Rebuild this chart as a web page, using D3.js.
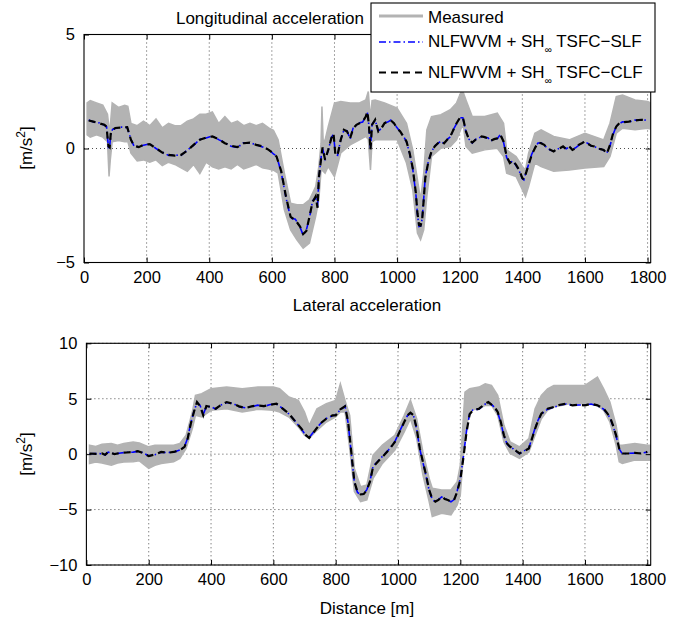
<!DOCTYPE html>
<html>
<head>
<meta charset="utf-8">
<script src="https://cdn.jsdelivr.net/npm/d3@7"></script>
<style>
  body { margin: 0; background: #fff; }
  svg { display: block; font-family: "Liberation Sans", Arial, Helvetica, sans-serif; }
</style>
</head>
<body>
<svg id="chart" width="686" height="622"></svg>
<script>
// ---- data ----
const xTicks = [0, 200, 400, 600, 800, 1000, 1200, 1400, 1600, 1800];
const lonTicks = [-5, 0, 5];
const latTicks = [-10, -5, 0, 5, 10];
const legendLabels = ["Measured", "NLFWVM + SH", "NLFWVM + SH"];
const legendSuffix = ["", " TSFC\u2212SLF", " TSFC\u2212CLF"];

// longitudinal acceleration, model outputs
const lonDist = [15,30,50,65,72,78,82,86,92,100,120,138,150,160,175,190,210,230,250,270,290,310,330,350,370,390,410,430,450,470,490,510,530,550,570,590,605,615,630,645,660,675,690,700,710,720,730,740,746,750,758,762,770,780,790,797,803,810,820,830,840,850,860,870,880,890,900,905,910,915,920,930,940,950,960,970,980,990,1000,1010,1020,1030,1040,1050,1060,1065,1070,1075,1080,1085,1090,1100,1110,1120,1130,1140,1150,1160,1170,1180,1190,1200,1210,1220,1230,1240,1250,1260,1270,1280,1290,1300,1310,1320,1330,1340,1350,1360,1370,1380,1390,1400,1405,1410,1420,1430,1440,1450,1460,1470,1480,1490,1500,1510,1520,1530,1540,1550,1560,1570,1580,1590,1600,1610,1620,1630,1640,1650,1660,1670,1680,1690,1700,1710,1720,1740,1760,1780,1800];
const lonCLF = [1.23,1.18,1.10,1.04,0.95,0.10,0.05,0.75,0.82,0.90,0.92,0.94,0.38,0.12,0.06,0.16,0.19,0.01,-0.18,-0.28,-0.31,-0.28,-0.09,0.16,0.38,0.48,0.53,0.41,0.23,0.12,0.06,0.23,0.26,0.16,0.09,-0.06,-0.22,-0.35,-1.0,-2.1,-3.0,-3.14,-3.42,-3.75,-3.62,-3.0,-2.35,-2.1,-2.6,-1.3,-0.35,0.05,-0.5,-0.06,0.45,0.66,-0.3,-0.28,0.38,0.82,0.75,0.45,0.89,1.04,1.11,1.18,1.40,1.62,1.04,-0.06,1.04,1.26,0.75,0.89,1.11,1.18,1.23,1.11,0.89,0.75,0.53,0.31,-0.20,-0.86,-1.96,-2.84,-3.35,-3.38,-3.13,-2.25,-1.30,-0.57,-0.13,0.09,0.23,0.31,0.23,0.38,0.53,0.82,1.11,1.33,1.37,0.75,0.38,0.26,0.38,0.45,0.53,0.50,0.45,0.35,0.41,0.45,0.60,0.31,-0.35,-0.64,-0.53,-0.72,-0.94,-1.30,-1.35,-1.15,-0.72,-0.28,0.01,0.26,0.23,0.16,0.01,-0.06,-0.13,-0.03,0.01,0.09,-0.03,0.09,-0.06,0.01,0.16,0.23,0.31,0.20,0.12,0.09,0.01,-0.03,-0.06,-0.23,0.16,0.67,0.96,1.11,1.15,1.18,1.23,1.26,1.23];
const lonSLF = [1.25,1.16,1.12,1.02,0.97,0.05,0.08,0.72,0.85,0.88,0.94,0.92,0.40,0.10,0.08,0.14,0.21,0.00,-0.16,-0.30,-0.29,-0.30,-0.07,0.14,0.40,0.46,0.55,0.39,0.25,0.10,0.04,0.25,0.24,0.18,0.07,-0.04,-0.24,-0.33,-1.05,-2.15,-3.05,-3.10,-3.45,-3.80,-3.58,-3.05,-2.30,-2.15,-2.55,-1.35,-0.30,0.00,-0.45,-0.10,0.48,0.62,-0.25,-0.30,0.40,0.80,0.78,0.42,0.92,1.02,1.13,1.16,1.42,1.58,1.00,0.00,1.06,1.24,0.78,0.87,1.13,1.16,1.25,1.09,0.91,0.73,0.55,0.29,-0.22,-0.90,-2.00,-2.90,-3.42,-3.40,-3.10,-2.20,-1.25,-0.55,-0.15,0.11,0.21,0.33,0.21,0.40,0.51,0.84,1.09,1.35,1.35,0.73,0.40,0.24,0.40,0.43,0.55,0.48,0.47,0.33,0.43,0.43,0.62,0.28,-0.40,-0.62,-0.55,-0.75,-0.98,-1.33,-1.38,-1.12,-0.70,-0.25,0.03,0.24,0.25,0.14,0.03,-0.08,-0.11,-0.05,0.03,0.07,-0.01,0.07,-0.04,0.03,0.14,0.25,0.29,0.22,0.10,0.11,-0.01,-0.01,-0.08,-0.20,0.12,0.62,0.98,1.09,1.17,1.16,1.25,1.24,1.25];
// longitudinal acceleration, measured signal (upper / lower extent of the noisy trace)
const lonMeasDist = [10,20,40,60,75,80,84,90,110,130,140,150,170,190,210,230,250,270,290,310,330,350,370,390,410,430,450,470,490,510,530,550,570,590,605,620,640,660,680,700,720,740,750,757,760,764,770,780,800,820,850,880,900,908,915,920,930,960,1000,1030,1050,1065,1075,1085,1095,1110,1140,1170,1190,1205,1212,1220,1240,1280,1320,1340,1350,1380,1400,1410,1420,1440,1460,1500,1550,1600,1660,1680,1700,1720,1760,1800,1810];
const lonMeasHi = [2.0,2.1,2.0,1.9,1.5,0.9,1.0,2.0,1.8,1.9,1.85,1.1,1.0,1.2,1.0,1.3,0.9,1.1,1.0,1.0,1.2,1.3,1.5,1.5,1.6,1.1,1.4,1.1,1.2,1.0,1.1,1.0,1.1,0.9,0.8,0.38,-1.08,-2.4,-2.47,-2.47,-2.25,-1.67,-0.79,0.2,1.84,0.3,0.38,0.96,1.99,2.06,2.0,2.0,2.13,2.5,1.3,2.1,2.13,2.0,1.77,1.11,-0.06,-1.37,-2.25,-1.08,0.82,1.4,1.48,1.7,2.0,2.5,2.43,2.13,1.4,1.4,1.55,1.11,-0.06,-0.35,-0.79,-0.94,-0.2,0.67,0.82,0.53,0.38,0.67,0.38,1.11,2.28,2.35,2.13,2.06,2.0];
const lonMeasLo = [0.6,0.5,0.6,0.5,0.3,-1.23,-0.5,0.3,0.35,0.3,0.3,-0.2,-0.55,-0.5,-0.6,-0.5,-0.75,-0.6,-0.7,-0.85,-1.0,-0.7,-1.1,-0.6,-0.8,-0.9,-0.8,-0.9,-0.7,-0.9,-0.8,-0.7,-0.85,-0.9,-0.95,-1.08,-2.69,-3.57,-4.0,-4.37,-4.15,-2.98,-2.25,-1.0,-0.94,-1.0,-1.08,-0.79,-1.23,-0.2,0.16,0.38,0.53,0.4,-0.94,0.3,0.38,0.38,0.38,-0.64,-1.81,-3.71,-4.0,-3.57,-2.1,-0.35,0.01,0.09,0.38,0.9,0.96,0.09,-0.2,-0.06,0.01,-0.35,-1.08,-1.23,-1.81,-2.1,-1.67,-0.64,-0.79,-1.0,-0.94,-0.86,-0.79,-0.35,0.67,0.89,0.82,0.89,0.85];

// lateral acceleration, model outputs
const latDist = [10,30,50,60,70,90,110,130,150,165,180,200,220,240,260,280,300,315,325,335,345,355,365,375,385,400,415,430,450,470,490,510,530,550,570,590,610,630,650,670,690,705,715,730,750,770,790,800,815,830,840,850,860,870,880,890,900,910,920,930,950,970,990,1010,1030,1040,1050,1060,1070,1080,1090,1100,1110,1120,1130,1140,1150,1160,1170,1180,1190,1200,1210,1220,1230,1240,1260,1280,1290,1300,1310,1320,1330,1340,1350,1360,1370,1380,1390,1400,1410,1420,1430,1440,1450,1460,1480,1500,1520,1540,1560,1580,1600,1620,1640,1660,1670,1680,1690,1700,1710,1720,1740,1760,1780,1800];
const latCLF = [0.06,0.03,0.06,-0.05,0.20,0.00,0.12,0.15,0.20,0.27,0.12,-0.18,-0.03,0.20,0.12,0.20,0.36,0.66,1.40,2.75,3.80,4.70,4.34,3.50,4.34,4.25,4.10,4.40,4.70,4.55,4.31,4.16,4.31,4.40,4.34,4.46,4.55,4.10,3.65,2.96,2.30,1.70,1.47,2.00,2.75,3.20,3.50,3.50,4.04,4.31,2.90,0.20,-2.49,-3.40,-3.62,-3.60,-3.23,-2.49,-1.14,-0.84,-0.24,0.36,1.10,2.30,3.50,3.74,3.50,2.30,0.51,-0.69,-1.89,-3.23,-4.04,-4.28,-4.13,-3.83,-4.04,-4.13,-4.28,-4.13,-3.38,-2.30,-0.30,2.00,3.60,3.95,4.10,4.55,4.70,4.46,4.25,3.80,2.90,1.70,0.96,0.66,0.51,0.27,0.06,0.20,0.36,0.51,1.40,2.30,3.05,3.65,4.10,4.25,4.46,4.55,4.40,4.46,4.40,4.55,4.40,4.10,3.74,3.35,2.60,1.70,0.51,0.06,0.06,0.12,0.06,0.20];
const latSLF = [0.04,0.05,0.04,-0.08,0.18,0.02,0.10,0.17,0.18,0.25,0.14,-0.15,-0.05,0.18,0.14,0.18,0.38,0.70,1.45,2.80,3.85,4.65,4.38,3.60,4.30,4.28,4.06,4.42,4.66,4.58,4.28,4.18,4.28,4.42,4.30,4.48,4.52,4.12,3.62,2.98,2.26,1.66,1.50,2.04,2.72,3.22,3.46,3.54,4.00,4.34,2.80,0.10,-2.55,-3.45,-3.66,-3.58,-3.20,-2.45,-1.10,-0.80,-0.20,0.40,1.14,2.34,3.46,3.70,3.46,2.26,0.45,-0.75,-1.95,-3.28,-4.08,-4.30,-4.10,-3.86,-4.00,-4.16,-4.30,-4.10,-3.30,-2.20,-0.20,2.10,3.64,3.98,4.06,4.52,4.66,4.48,4.22,3.76,2.84,1.64,0.92,0.62,0.48,0.24,0.04,0.22,0.38,0.55,1.46,2.36,3.10,3.62,4.06,4.22,4.44,4.52,4.42,4.44,4.42,4.52,4.36,4.06,3.70,3.30,2.54,1.64,0.46,0.02,0.08,0.10,0.08,0.18];
// lateral acceleration, measured signal
const latMeasDist = [10,30,50,80,100,120,150,170,200,220,240,280,300,320,340,350,370,400,450,500,550,600,620,650,680,700,715,740,770,800,815,830,845,860,880,900,920,950,990,1020,1040,1060,1080,1100,1110,1140,1170,1190,1200,1215,1230,1260,1280,1300,1320,1340,1360,1390,1420,1440,1460,1480,1500,1550,1600,1640,1660,1680,1700,1710,1720,1760,1800,1810];
const latMeasHi = [0.81,0.7,0.9,0.96,0.8,0.96,1.1,1.0,0.66,0.8,0.81,0.81,0.96,1.7,3.8,5.3,5.45,5.9,6.05,5.9,6.05,6.05,5.9,5.15,4.85,3.8,2.6,4.1,4.55,4.85,6.35,4.85,3.5,-1.29,-2.93,-2.78,-0.09,0.81,1.7,3.5,4.85,3.2,0.2,-2.19,-3.08,-3.23,-3.23,-2.49,-0.99,5.6,5.9,6.05,6.35,6.2,5.3,2.6,1.1,0.66,1.4,4.1,5.3,5.9,6.2,6.2,6.2,6.95,5.9,4.7,2.6,0.81,0.81,0.96,0.81,0.8];
const latMeasLo = [-0.84,-0.7,-0.8,-0.99,-0.8,-0.7,-0.69,-0.6,-1.29,-1.0,-0.84,-0.69,-0.39,0.51,2.3,3.5,3.35,3.95,4.1,3.8,4.04,3.95,3.8,3.35,2.46,1.7,1.4,2.15,2.9,3.35,3.8,3.8,0.51,-3.38,-4.28,-4.13,-2.19,-0.84,0.36,2.0,3.2,1.4,-1.89,-4.28,-5.63,-5.33,-5.48,-4.58,-3.68,1.7,3.95,4.1,4.4,4.4,3.5,1.1,0.06,-0.39,0.2,1.7,3.2,3.95,4.25,4.55,4.55,4.4,3.95,2.9,0.81,-0.69,-0.84,-0.54,-0.54,-0.55];

// ---- drawing ----
const svg = d3.select("#chart");
const gray = "#b3b3b3";

function panel(o) {
  const x = d3.scaleLinear().domain([0, o.xMax]).range([o.left, o.right]);
  const y = d3.scaleLinear().domain(o.yDomain).range([o.bottom, o.top]);
  const g = svg.append("g");

  // dotted grid
  g.append("g").selectAll("line").data(xTicks.filter(t => t > 0)).join("line")
    .attr("x1", d => x(d)).attr("x2", d => x(d))
    .attr("y1", o.top).attr("y2", o.bottom)
    .attr("stroke", "#000").attr("stroke-width", 0.7).attr("stroke-dasharray", "1,3");
  g.append("g").selectAll("line").data(o.yTicks).join("line")
    .attr("x1", o.left).attr("x2", o.right)
    .attr("y1", d => y(d)).attr("y2", d => y(d))
    .attr("stroke", "#000").attr("stroke-width", 0.7).attr("stroke-dasharray", "1,3");

  const clipId = "clip" + o.id;
  g.append("clipPath").attr("id", clipId).append("rect")
    .attr("x", o.left).attr("y", o.top)
    .attr("width", o.right - o.left).attr("height", o.bottom - o.top);
  const plot = g.append("g").attr("clip-path", `url(#${clipId})`);

  const meas = d3.zip(o.measDist, o.measHi, o.measLo);
  plot.append("path").datum(meas)
    .attr("fill", gray).attr("stroke", gray).attr("stroke-width", 1.5)
    .attr("d", d3.area().x(d => x(d[0])).y0(d => y(d[2])).y1(d => y(d[1])));

  const line = d3.line().x(d => x(d[0])).y(d => y(d[1]));
  plot.append("path").datum(d3.zip(o.dist, o.slf))
    .attr("fill", "none").attr("stroke", "#0000ff").attr("stroke-width", 1.6)
    .attr("stroke-dasharray", "7,3,1.5,3").attr("d", line);
  plot.append("path").datum(d3.zip(o.dist, o.clf))
    .attr("fill", "none").attr("stroke", "#000").attr("stroke-width", 2.2)
    .attr("stroke-dasharray", "7,5").attr("d", line);

  // axes with inward ticks on all four sides
  const fmt = d3.format("d");
  const styleAxis = a => {
    a.select(".domain").remove();
    a.selectAll("text").attr("font-size", 16.5).attr("fill", "#000")
      .attr("font-family", "Liberation Sans, Arial, sans-serif");
    a.selectAll("line").attr("stroke", "#000");
  };
  g.append("g").attr("transform", `translate(0,${o.bottom})`)
    .call(d3.axisBottom(x).tickValues(xTicks).tickSize(-5).tickPadding(o.xPad).tickFormat(fmt))
    .call(styleAxis);
  g.append("g").attr("transform", `translate(0,${o.top})`)
    .call(d3.axisTop(x).tickValues(xTicks).tickSize(-5).tickFormat(""))
    .call(styleAxis);
  g.append("g").attr("transform", `translate(${o.left},0)`)
    .call(d3.axisLeft(y).tickValues(o.yTicks).tickSize(-5).tickPadding(9).tickFormat(fmt))
    .call(styleAxis);
  g.append("g").attr("transform", `translate(${o.right},0)`)
    .call(d3.axisRight(y).tickValues(o.yTicks).tickSize(-5).tickFormat(""))
    .call(styleAxis);

  g.append("rect")
    .attr("x", o.left).attr("y", o.top)
    .attr("width", o.right - o.left).attr("height", o.bottom - o.top)
    .attr("fill", "none").attr("stroke", "#000").attr("stroke-width", 1.1);

  // title
  g.append("text").attr("x", o.titleX).attr("y", o.titleY)
    .attr("text-anchor", "middle").attr("font-size", 17).text(o.title);

  // y label [m/s²]
  const yl = g.append("text")
    .attr("transform", `translate(32,${o.yLabelY}) rotate(-90)`)
    .attr("text-anchor", "middle").attr("font-size", 17);
  yl.append("tspan").text("[m/s");
  yl.append("tspan").attr("font-size", 12).attr("dy", -7).text("2");
  yl.append("tspan").attr("dy", 7).text("]");
}

panel({
  id: "lon", left: 84, right: 650.7, top: 34.5, bottom: 262.5, xMax: 1810,
  yDomain: [-5, 5], yTicks: lonTicks, xPad: 9,
  dist: lonDist, clf: lonCLF, slf: lonSLF,
  measDist: lonMeasDist, measHi: lonMeasHi, measLo: lonMeasLo,
  title: "Longitudinal acceleration", titleX: 270, titleY: 24, yLabelY: 148
});
panel({
  id: "lat", left: 86.4, right: 650.7, top: 343.3, bottom: 565, xMax: 1811,
  yDomain: [-10, 10], yTicks: latTicks, xPad: 8,
  dist: latDist, clf: latCLF, slf: latSLF,
  measDist: latMeasDist, measHi: latMeasHi, measLo: latMeasLo,
  title: "Lateral acceleration", titleX: 367, titleY: 311, yLabelY: 454
});

svg.append("text").attr("x", 367).attr("y", 614)
  .attr("text-anchor", "middle").attr("font-size", 17).text("Distance [m]");

// legend
const leg = svg.append("g");
leg.append("rect").attr("x", 371).attr("y", 3).attr("width", 284).attr("height", 89)
  .attr("fill", "#fff").attr("stroke", "#000").attr("stroke-width", 1.1);
const rows = [
  { y: 16, base: 23, stroke: gray, width: 3, dash: null },
  { y: 42, base: 47, stroke: "#0000ff", width: 1.6, dash: "7,3,1.5,3" },
  { y: 72.5, base: 78, stroke: "#000", width: 2.2, dash: "7,5" }
];
rows.forEach((r, i) => {
  leg.append("line").attr("x1", 379).attr("x2", 423).attr("y1", r.y).attr("y2", r.y)
    .attr("stroke", r.stroke).attr("stroke-width", r.width)
    .attr("stroke-dasharray", r.dash);
  const t = leg.append("text").attr("x", 428).attr("y", r.base).attr("font-size", 17);
  t.append("tspan").text(legendLabels[i]);
  if (legendSuffix[i]) {
    t.append("tspan").attr("font-size", 10).attr("dy", 6).text("\u221e");
    t.append("tspan").attr("dy", -6).text(legendSuffix[i]);
  }
});
</script>
</body>
</html>
